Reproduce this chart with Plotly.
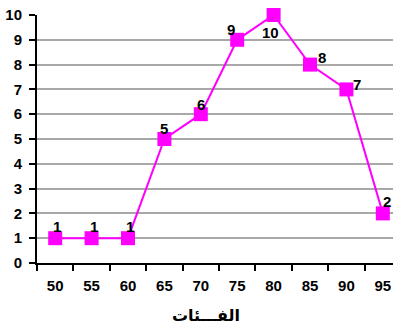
import plotly.graph_objects as go

categories = ["50", "55", "60", "65", "70", "75", "80", "85", "90", "95"]
values = [1, 1, 1, 5, 6, 9, 10, 8, 7, 2]
x_title = "الفـــئات"
y_ticks = list(range(0, 11))

# label offsets in pixels (style only)
label_dx = [2, 2, 2, 0, 0, -6, -3, 12, 11, 4]
label_dy = [12, 12, 12, 11, 10, 10, -17, 7, 5, 12]

MAG = "#FF00FF"
NUMFONT = dict(family="Liberation Sans, Arial, sans-serif", size=15, color="black")

fig = go.Figure()
fig.add_trace(go.Scatter(
    x=categories, y=values, mode="lines+markers",
    line=dict(color=MAG, width=2),
    marker=dict(symbol="square", size=14, color=MAG),
    cliponaxis=False, showlegend=False,
))

for i, (v, dx, dy) in enumerate(zip(values, label_dx, label_dy)):
    fig.add_annotation(x=i, y=v, text=f"<b>{v}</b>", showarrow=False,
                       xshift=dx, yshift=dy, font=NUMFONT,
                       xanchor="center", yanchor="middle")

# x-axis title (placed as in the reference, slightly left of centre)
fig.add_annotation(x=0.475, y=-0.21, xref="paper", yref="paper",
                   text=f"<b>{x_title}</b>", showarrow=False,
                   xanchor="center", yanchor="middle",
                   font=dict(family="DejaVu Sans, sans-serif", size=16, color="black"))

fig.update_layout(
    width=393, height=329,
    margin=dict(l=37, r=0, t=15, b=66),
    paper_bgcolor="white", plot_bgcolor="white",
    font=NUMFONT,
    xaxis=dict(
        type="category", range=[-0.5, 9.28], tickson="boundaries",
        tickvals=categories, ticktext=[f"<b>{c}</b>" for c in categories],
        ticks="outside", ticklen=6, tickwidth=2, tickcolor="black",
        showline=True, linecolor="black", linewidth=2,
        showgrid=False, zeroline=False, automargin=False,
        tickfont=NUMFONT,
        ticklabelstandoff=8,
    ),
    yaxis=dict(
        range=[0, 10], tickvals=y_ticks, ticktext=[f"<b>{t}</b>" for t in y_ticks],
        ticks="outside", ticklen=6, tickwidth=2, tickcolor="black",
        showline=True, linecolor="black", linewidth=2,
        showgrid=True, gridcolor="#A8A8A8", gridwidth=1.5,
        zeroline=False, automargin=False,
        tickfont=NUMFONT,
        ticklabelstandoff=4,
    ),
)

fig.write_html("out.html", config={"displayModeBar": False},
               post_script="document.body.style.margin='0';document.body.style.overflow='hidden';")
